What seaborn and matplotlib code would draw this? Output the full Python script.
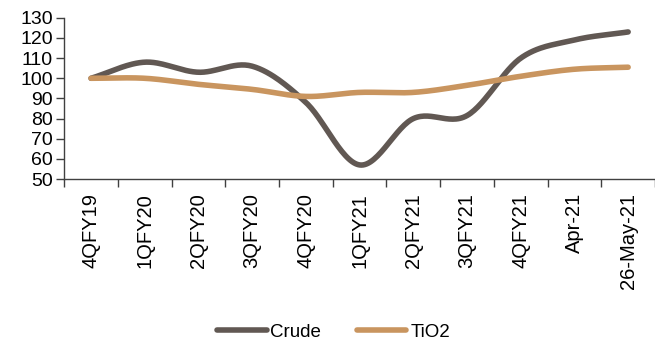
import numpy as np
import pandas as pd
import matplotlib
matplotlib.use("Agg")
import matplotlib.pyplot as plt
import seaborn as sns
from matplotlib.lines import Line2D

periods = ["4QFY19", "1QFY20", "2QFY20", "3QFY20", "4QFY20", "1QFY21",
           "2QFY21", "3QFY21", "4QFY21", "Apr-21", "26-May-21"]
crude = [100, 108, 103, 106, 88, 57, 80, 81.5, 110, 119, 123]
tio2 = [100, 100, 97, 94.5, 91, 93, 93, 96.5, 101, 104.5, 105.5]

series_names = ["Crude", "TiO2"]
series_colors = ["#615853", "#c9955f"]

sns.set_theme(style="white")
plt.rcParams["font.family"] = ["Liberation Sans", "DejaVu Sans"]
plt.rcParams["text.color"] = "black"
plt.rcParams["xtick.color"] = "black"
plt.rcParams["ytick.color"] = "black"


def smooth(values, steps=30):
    """Catmull-Rom curve through the points (spreadsheet-style smoothed line)."""
    p = np.asarray(values, dtype=float)
    x = np.arange(len(p), dtype=float)
    pts = np.column_stack([x, p])
    ext = np.vstack([pts[0] - (pts[1] - pts[0]), pts, pts[-1] + (pts[-1] - pts[-2])])
    out = []
    for i in range(1, len(ext) - 2):
        p0, p1, p2, p3 = ext[i - 1], ext[i], ext[i + 1], ext[i + 2]
        c1 = p1 + (p2 - p0) / 6.0
        c2 = p2 - (p3 - p1) / 6.0
        t = np.linspace(0, 1, steps, endpoint=(i == len(ext) - 3))[:, None]
        seg = ((1 - t) ** 3) * p1 + 3 * ((1 - t) ** 2) * t * c1 + 3 * (1 - t) * t ** 2 * c2 + t ** 3 * p2
        out.append(seg)
    out = np.vstack(out)
    return out[:, 0], out[:, 1]


frames = []
for name, vals in zip(series_names, [crude, tio2]):
    sx, sy = smooth(vals)
    frames.append(pd.DataFrame({"x": sx, "value": sy, "series": name}))
df = pd.concat(frames, ignore_index=True)

fig = plt.figure(figsize=(6.55, 3.43), dpi=100)
ax = fig.add_axes([0.098, 0.478, 0.902, 0.470])

sns.lineplot(data=df, x="x", y="value", hue="series", hue_order=series_names,
             palette=series_colors, linewidth=4.0, ax=ax, legend=False,
             sort=False, estimator=None)
for ln in ax.get_lines():
    ln.set_solid_capstyle("round")
    ln.set_solid_joinstyle("round")

ax.set_xlim(-0.5, len(periods) - 0.5)
ax.set_ylim(50, 130)
ax.set_yticks(range(50, 131, 10))
ax.set_xticks(np.arange(len(periods)))
ax.set_xticklabels(periods, rotation=90, fontsize=14.5)
ax.tick_params(axis="x", length=0, pad=10, labelcolor="black")
ax.tick_params(axis="y", labelsize=14, length=6, width=1, color="#404040",
               direction="out", left=True, pad=2, labelcolor="black")
ax.set_xlabel("")
ax.set_ylabel("")

# tick marks between categories
ax.set_xticks(np.arange(len(periods) + 1) - 0.5, minor=True)
ax.tick_params(axis="x", which="minor", length=6, width=1, color="#404040",
               direction="out", bottom=True)

for side in ["top", "right"]:
    ax.spines[side].set_visible(False)
for side in ["left", "bottom"]:
    ax.spines[side].set_color("#404040")
    ax.spines[side].set_linewidth(1)

handles = [Line2D([0], [0], color=c, lw=4.0, solid_capstyle="round") for c in series_colors]
fig.legend(handles, series_names, loc="center", bbox_to_anchor=(0.509, 0.032),
           ncol=2, frameon=False, fontsize=13.5, handlelength=2.65,
           handletextpad=0.2, columnspacing=1.9, labelcolor="black")

fig.savefig("out.png", dpi=100)
